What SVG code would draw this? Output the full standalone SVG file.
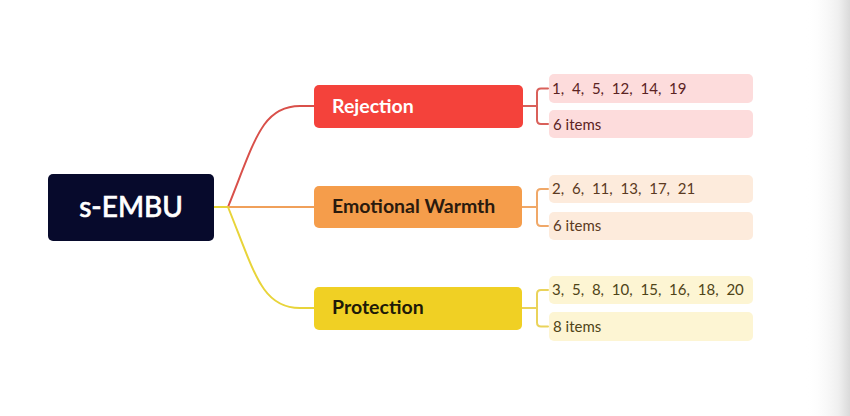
<svg xmlns="http://www.w3.org/2000/svg" width="850" height="416" viewBox="0 0 850 416">
<defs>
<linearGradient id="edge" x1="0" y1="0" x2="1" y2="0">
<stop offset="0" stop-color="#ffffff" stop-opacity="0"/>
<stop offset="0.75" stop-color="#efefef"/>
<stop offset="1" stop-color="#dadada"/>
</linearGradient>
<style>
.main{font-family:Lato,"Liberation Sans",sans-serif;font-weight:bold;font-size:19.5px}
.leaf{font-family:Lato,"Liberation Sans",sans-serif;font-size:15px}
.nums{word-spacing:4px}
.con{fill:none;stroke-width:2;stroke-linecap:round;stroke-linejoin:round}
</style>
</defs>
<rect x="0" y="0" width="850" height="416" fill="#ffffff"/>
<rect x="805" y="0" width="45" height="416" fill="url(#edge)"/>

<g id="connectors">
<path class="con" stroke="#e8d43a" d="M214,207 L228,207"/>
<path class="con" stroke="#d9504a" d="M228,207 C255,140 262,106 300,106 L315,106"/>
<path class="con" stroke="#f0a05a" d="M228,207 L315,207"/>
<path class="con" stroke="#e8d43a" d="M228,207 C255,274 262,308 300,308 L315,308"/>
<path class="con" stroke="#d9605a" d="M522,106 L537,106 M548,88.5 L541,88.5 Q537,88.5 537,92.5 L537,120 Q537,124 541,124 L548,124"/>
<path class="con" stroke="#f0a868" d="M522,207 L537,207 M548,189 L541,189 Q537,189 537,193 L537,222 Q537,226 541,226 L548,226"/>
<path class="con" stroke="#ead35a" d="M522,308 L537,308 M548,290 L541,290 Q537,290 537,294 L537,322.5 Q537,326.5 541,326.5 L548,326.5"/>
</g>

<g id="root">
<rect x="48" y="174" width="166" height="67" rx="5" fill="#070a2c"/>
<text x="131" y="217" text-anchor="middle" font-family="Lato,'Liberation Sans',sans-serif" font-size="28" font-weight="500" fill="#ffffff" stroke="#ffffff" stroke-width="0.6">s-EMBU</text>
</g>

<g id="rejection">
<rect x="314" y="85" width="209" height="43" rx="5" fill="#f4423b"/>
<text class="main" x="332" y="113" fill="#ffffff">Rejection</text>
</g>
<g id="warmth">
<rect x="314" y="186" width="208" height="42" rx="5" fill="#f59d4b"/>
<text class="main" x="332" y="213" fill="#2a1a0e">Emotional Warmth</text>
</g>
<g id="protection">
<rect x="314" y="287" width="208" height="43" rx="5" fill="#f0d024"/>
<text class="main" x="332" y="314" fill="#1e1a08">Protection</text>
</g>

<g id="rej-items">
<rect x="549" y="74" width="204" height="29" rx="5" fill="#fddcdc"/>
<text class="leaf nums" x="552" y="94" fill="#5b2323">1, 4, 5, 12, 14, 19</text>
</g>
<g id="rej-count">
<rect x="549" y="110" width="204" height="28" rx="5" fill="#fddcdc"/>
<text class="leaf" x="553" y="130" fill="#5b2323">6 items</text>
</g>
<g id="warm-items">
<rect x="549" y="175" width="204" height="28" rx="5" fill="#fdebdc"/>
<text class="leaf nums" x="552" y="194" fill="#5b3a22">2, 6, 11, 13, 17, 21</text>
</g>
<g id="warm-count">
<rect x="549" y="212" width="204" height="28" rx="5" fill="#fdebdc"/>
<text class="leaf" x="553" y="231" fill="#5b3a22">6 items</text>
</g>
<g id="prot-items">
<rect x="549" y="276" width="204" height="28" rx="5" fill="#fdf5d3"/>
<text class="leaf nums" x="552" y="295" fill="#4f4418">3, 5, 8, 10, 15, 16, 18, 20</text>
</g>
<g id="prot-count">
<rect x="549" y="312" width="204" height="29" rx="5" fill="#fdf5d3"/>
<text class="leaf" x="553" y="332" fill="#4f4418">8 items</text>
</g>
</svg>
